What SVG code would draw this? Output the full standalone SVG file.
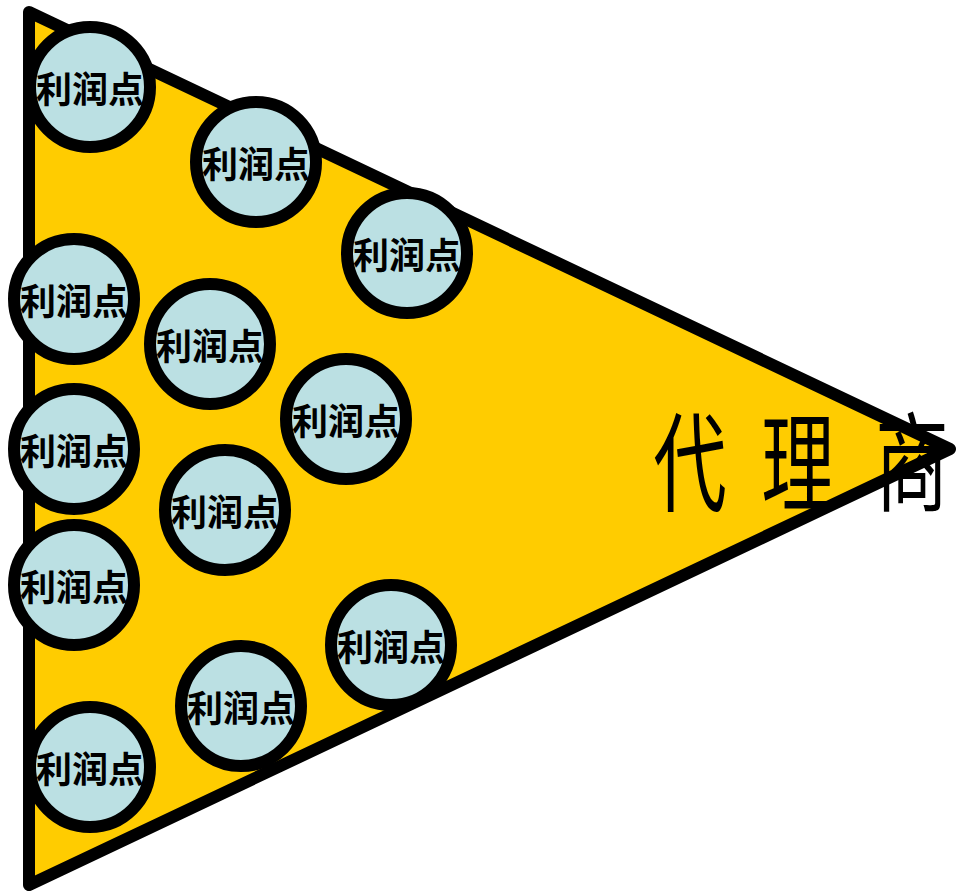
<svg xmlns="http://www.w3.org/2000/svg" width="959" height="895" viewBox="0 0 959 895">
<style>
.tri{fill:#FFCC00;stroke:#000;stroke-width:12;stroke-linejoin:round}
.pt circle{fill:#BBE0E3;stroke:#000;stroke-width:12}
.pt text{font-family:"Noto Sans CJK SC","Noto Sans CJK JP",sans-serif;font-weight:bold;font-size:36px;fill:#000;text-anchor:middle;dominant-baseline:central}
.big{font-family:"Noto Sans CJK SC","Noto Sans CJK JP",sans-serif;font-size:108px;fill:#000;text-anchor:middle;dominant-baseline:central}
</style>
<g id="agent">
<polygon class="tri" points="29,12 950,449 29,885"/>
</g>
<g id="connectors"></g>
<g id="p1" class="pt"><circle cx="90" cy="87" r="60"/><text x="90" y="87">利润点</text></g>
<g id="p2" class="pt"><circle cx="256" cy="162" r="60"/><text x="256" y="162">利润点</text></g>
<g id="p3" class="pt"><circle cx="407" cy="253" r="60"/><text x="407" y="253">利润点</text></g>
<g id="p4" class="pt"><circle cx="74" cy="299" r="60"/><text x="74" y="299">利润点</text></g>
<g id="p5" class="pt"><circle cx="210" cy="344" r="60"/><text x="210" y="344">利润点</text></g>
<g id="p6" class="pt"><circle cx="346" cy="419" r="60"/><text x="346" y="419">利润点</text></g>
<g id="p7" class="pt"><circle cx="74" cy="449" r="60"/><text x="74" y="449">利润点</text></g>
<g id="p8" class="pt"><circle cx="225" cy="510" r="60"/><text x="225" y="510">利润点</text></g>
<g id="p9" class="pt"><circle cx="74" cy="585" r="60"/><text x="74" y="585">利润点</text></g>
<g id="p10" class="pt"><circle cx="391" cy="645" r="60"/><text x="391" y="645">利润点</text></g>
<g id="p11" class="pt"><circle cx="241" cy="706" r="60"/><text x="241" y="706">利润点</text></g>
<g id="p12" class="pt"><circle cx="90" cy="767" r="60"/><text x="90" y="767">利润点</text></g>
<g id="label">
<text class="big" transform="translate(690 456) scale(0.68 1)">代</text>
<text class="big" transform="translate(798 456) scale(0.68 1)">理</text>
<text class="big" transform="translate(912 456) scale(0.68 1)">商</text>
</g>
</svg>
